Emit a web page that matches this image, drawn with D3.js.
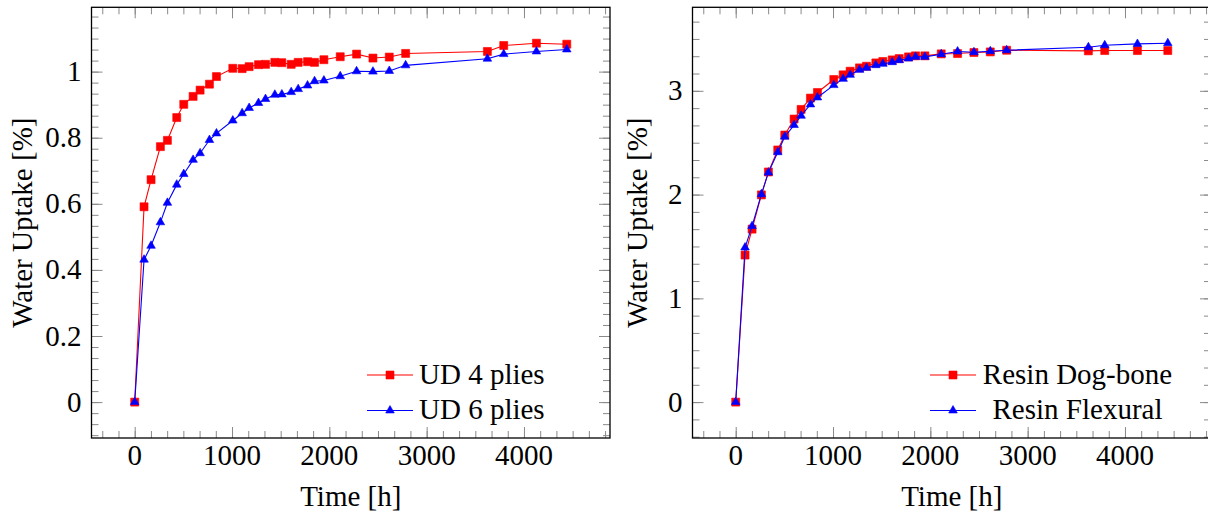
<!DOCTYPE html>
<html>
<head>
<meta charset="utf-8">
<script src="https://cdn.jsdelivr.net/npm/d3@7"></script>
<style>
  html, body { margin: 0; padding: 0; background: #fff; }
  svg { display: block; }
</style>
</head>
<body>
<svg id="chart" width="1208" height="515"></svg>
<script>
// ---- data ----
const timeHours = [0, 96, 168, 264, 336, 432, 504, 600, 672, 768, 840, 1008, 1104, 1176, 1272, 1344, 1440, 1512, 1608, 1680, 1776, 1848, 1944, 2112, 2280, 2448, 2616, 2784, 3624, 3792, 4128, 4440];

const ud4Plies = [0, 0.591, 0.673, 0.773, 0.792, 0.861, 0.901, 0.925, 0.944, 0.962, 0.985, 1.010, 1.009, 1.015, 1.021, 1.022, 1.028, 1.027, 1.022, 1.028, 1.030, 1.028, 1.036, 1.045, 1.053, 1.041, 1.044, 1.055, 1.061, 1.079, 1.086, 1.083];
const ud6Plies = [0, 0.431, 0.473, 0.544, 0.603, 0.658, 0.690, 0.733, 0.753, 0.793, 0.813, 0.852, 0.874, 0.890, 0.905, 0.917, 0.930, 0.931, 0.938, 0.947, 0.958, 0.971, 0.973, 0.986, 1.001, 1.000, 1.002, 1.019, 1.039, 1.053, 1.061, 1.067];

const resinDogBone = [0, 1.417, 1.667, 1.997, 2.218, 2.430, 2.574, 2.728, 2.821, 2.930, 2.984, 3.109, 3.154, 3.189, 3.221, 3.237, 3.269, 3.283, 3.298, 3.311, 3.327, 3.337, 3.337, 3.356, 3.359, 3.369, 3.375, 3.391, 3.385, 3.388, 3.388, 3.388];
const resinFlexural = [0, 1.490, 1.696, 2.004, 2.212, 2.408, 2.558, 2.670, 2.760, 2.869, 2.936, 3.055, 3.115, 3.154, 3.202, 3.221, 3.247, 3.260, 3.276, 3.295, 3.311, 3.327, 3.327, 3.353, 3.379, 3.372, 3.382, 3.391, 3.420, 3.439, 3.452, 3.459];

const xTickValues = [0, 1000, 2000, 3000, 4000];
const xTickLabels = ["0", "1000", "2000", "3000", "4000"];
const leftYTickValues = [0, 0.2, 0.4, 0.6, 0.8, 1];
const leftYTickLabels = ["0", "0.2", "0.4", "0.6", "0.8", "1"];
const rightYTickValues = [0, 1, 2, 3];
const rightYTickLabels = ["0", "1", "2", "3"];

const leftSeriesNames = ["UD 4 plies", "UD 6 plies"];
const rightSeriesNames = ["Resin Dog-bone", "Resin Flexural"];
const xLabel = "Time [h]";
const yLabel = "Water Uptake [%]";

// ---- drawing ----
const svg = d3.select("#chart");
const FONT = 29;
const FAMILY = "'Liberation Serif', Tinos, 'Times New Roman', Times, 'DejaVu Serif', serif";

function txt(sel) {
  return sel.style("font-family", FAMILY).style("font-size", FONT + "px").attr("fill", "#000");
}

function enlarged(min, max) {
  const d = (max - min) * 0.1;
  return [min - d, max + d];
}

function minorTicks(domain, step) {
  const out = [];
  const start = Math.ceil(domain[0] / step - 1e-9);
  const end = Math.floor(domain[1] / step + 1e-9);
  for (let i = start; i <= end; i++) out.push(i * step);
  return out;
}

function panel(opts) {
  const { left, right, top, bottom, series, yTickValues, yTickLabels, yMinorStep, names, legend } = opts;
  const allY = series.flatMap(s => s.values);
  const xDom = enlarged(d3.min(timeHours), d3.max(timeHours));
  const yDom = enlarged(d3.min(allY), d3.max(allY));
  const x = d3.scaleLinear().domain(xDom).range([left, right]);
  const y = d3.scaleLinear().domain(yDom).range([bottom, top]);

  const g = svg.append("g");
  const xMinor = minorTicks(xDom, 1000 / 6);
  const yMinor = minorTicks(yDom, yMinorStep);

  const tickStyle = sel => {
    sel.select(".domain").remove();
    sel.selectAll(".tick line").attr("stroke", "#8a8a8a").attr("stroke-width", 1);
    sel.selectAll(".tick text").remove();
  };
  [[xMinor, 7], [xTickValues, 11]].forEach(([vals, len]) => {
    g.append("g").attr("transform", `translate(0,${bottom})`)
      .call(d3.axisBottom(x).tickValues(vals).tickSize(-len)).call(tickStyle);
    g.append("g").attr("transform", `translate(0,${top})`)
      .call(d3.axisTop(x).tickValues(vals).tickSize(-len)).call(tickStyle);
  });
  [[yMinor, 7], [yTickValues, 11]].forEach(([vals, len]) => {
    g.append("g").attr("transform", `translate(${left},0)`)
      .call(d3.axisLeft(y).tickValues(vals).tickSize(-len)).call(tickStyle);
    g.append("g").attr("transform", `translate(${right},0)`)
      .call(d3.axisRight(y).tickValues(vals).tickSize(-len)).call(tickStyle);
  });

  g.append("rect").attr("x", left).attr("y", top)
    .attr("width", right - left).attr("height", bottom - top)
    .attr("fill", "none").attr("stroke", "#000").attr("stroke-width", 1.3);

  g.append("g").selectAll("text").data(xTickValues).join("text")
    .attr("x", d => x(d)).attr("y", 465)
    .attr("text-anchor", "middle").call(txt)
    .text((d, i) => xTickLabels[i]);
  g.append("g").selectAll("text").data(yTickValues).join("text")
    .attr("x", left - 10).attr("y", d => y(d)).attr("dy", "0.33em")
    .attr("text-anchor", "end").call(txt)
    .text((d, i) => yTickLabels[i]);

  g.append("text")
    .attr("x", x((xDom[0] + xDom[1]) / 2)).attr("y", 506)
    .attr("text-anchor", "middle").call(txt).text(xLabel);
  g.append("text")
    .attr("transform", `translate(${opts.yLabelX},${(top + bottom) / 2}) rotate(-90)`)
    .attr("text-anchor", "middle").call(txt).text(yLabel);

  const line = d3.line().x(d => x(d[0])).y(d => y(d[1]));
  series.forEach(s => {
    const pts = timeHours.map((t, i) => [t, s.values[i]]);
    g.append("path").datum(pts).attr("d", line)
      .attr("fill", "none").attr("stroke", s.color).attr("stroke-width", 1.1);
    g.append("g").selectAll("path").data(pts).join("path")
      .attr("transform", d => `translate(${x(d[0])},${y(d[1])})`)
      .attr("d", d3.symbol().type(s.symbol).size(s.size)())
      .attr("fill", s.color).attr("stroke", s.color).attr("stroke-width", 0.6);
  });

  const lg = g.append("g");
  series.forEach((s, i) => {
    const ly = legend.rows[i];
    lg.append("line").attr("x1", legend.lineX0).attr("x2", legend.lineX1)
      .attr("y1", ly).attr("y2", ly).attr("stroke", s.color).attr("stroke-width", 1.1);
    lg.append("path")
      .attr("transform", `translate(${(legend.lineX0 + legend.lineX1) / 2},${ly})`)
      .attr("d", d3.symbol().type(s.symbol).size(s.size)())
      .attr("fill", s.color).attr("stroke", s.color).attr("stroke-width", 0.6);
    lg.append("text").attr("x", legend.textX).attr("y", ly + 8.5)
      .attr("text-anchor", legend.anchor).call(txt).text(names[i]);
  });
}

const squareSize = 64, triSize = 32;

panel({
  left: 91.5, right: 610, top: 7.3, bottom: 438,
  series: [
    { values: ud4Plies, color: "#ff0000", symbol: d3.symbolSquare, size: squareSize },
    { values: ud6Plies, color: "#0000ff", symbol: d3.symbolTriangle, size: triSize }
  ],
  yTickValues: leftYTickValues, yTickLabels: leftYTickLabels, yMinorStep: 0.2 / 6,
  names: leftSeriesNames, yLabelX: 32,
  legend: { lineX0: 367, lineX1: 413, textX: 419, anchor: "start", rows: [375, 410.5] }
});

panel({
  left: 692.5, right: 1211, top: 7.3, bottom: 438,
  series: [
    { values: resinDogBone, color: "#ff0000", symbol: d3.symbolSquare, size: squareSize },
    { values: resinFlexural, color: "#0000ff", symbol: d3.symbolTriangle, size: triSize }
  ],
  yTickValues: rightYTickValues, yTickLabels: rightYTickLabels, yMinorStep: 1 / 6,
  names: rightSeriesNames, yLabelX: 647,
  legend: { lineX0: 930, lineX1: 976, textX: 1077.5, anchor: "middle", rows: [375, 410.5] }
});
</script>
</body>
</html>
